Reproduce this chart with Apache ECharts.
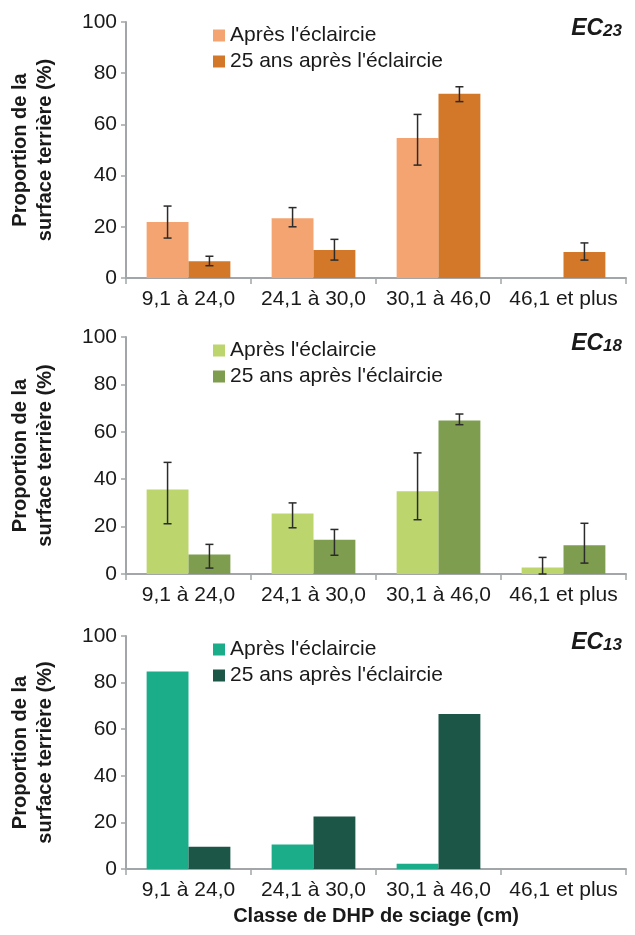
<!DOCTYPE html>
<html>
<head>
<meta charset="utf-8">
<script src="https://cdn.jsdelivr.net/npm/echarts@6/dist/echarts.min.js"></script>
<style>
  html, body { margin: 0; padding: 0; background: #fff; }
  #chart { width: 635px; height: 935px; }
</style>
</head>
<body>
<div id="chart"></div>
<script>
// ---------- DATA ----------
const categories = ['9,1 à 24,0', '24,1 à 30,0', '30,1 à 46,0', '46,1 et plus'];
const yTicks = [0, 20, 40, 60, 80, 100];
const legendAfter = "Après l'éclaircie";
const legendLater = "25 ans après l'éclaircie";
const panelNames = ['EC23', 'EC18', 'EC13'];

// EC23
const ec23After = [21.9, 23.3, 54.7, 0];
const ec23Later = [6.5, 10.9, 72.0, 10.2];
const ec23AfterErr = [[15.6, 28.1], [20.0, 27.5], [44.1, 63.9], null];
const ec23LaterErr = [[4.8, 8.5], [7.0, 15.1], [68.9, 74.7], [7.0, 13.7]];

// EC18
const ec18After = [35.7, 25.5, 34.9, 2.7];
const ec18Later = [8.2, 14.5, 64.8, 12.1];
const ec18AfterErr = [[21.2, 47.1], [19.5, 30.0], [22.9, 51.1], [0, 7.0]];
const ec18LaterErr = [[2.5, 12.5], [7.9, 18.8], [63.0, 67.5], [4.6, 21.4]];

// EC13
const ec13After = [84.8, 10.5, 2.3, 0];
const ec13Later = [9.6, 22.5, 66.5, 0];

// ---------- STYLE ----------
const panels = [
  { key: 'EC23', num: '23', after: ec23After, later: ec23Later, afterErr: ec23AfterErr, laterErr: ec23LaterErr,
    cA: '#F4A470', cB: '#D27828', top: 22, height: 256 },
  { key: 'EC18', num: '18', after: ec18After, later: ec18Later, afterErr: ec18AfterErr, laterErr: ec18LaterErr,
    cA: '#BDD56D', cB: '#7F9D4E', top: 337, height: 237 },
  { key: 'EC13', num: '13', after: ec13After, later: ec13Later, afterErr: null, laterErr: null,
    cA: '#1BAD8A', cB: '#1B5646', top: 636, height: 233 }
];

const FONT = '"Liberation Sans", Arial, sans-serif';
const TXT = '#1a1a1a';
const AXIS = '#a3a6a8';
const BAR_FRAC = 0.67; // fraction of category occupied by the two bars

const grids = [], xAxes = [], yAxes = [], series = [], legends = [], titles = [];

function errRender(side) {
  return function (params, api) {
    const x = api.value(0);
    const lo = api.coord([x, api.value(1)]);
    const hi = api.coord([x, api.value(2)]);
    const band = api.size([1, 0])[0];
    const off = side * band * BAR_FRAC / 4;
    const cx = lo[0] + off;
    const cap = 4;
    const st = { stroke: '#2b2b2b', lineWidth: 1.5 };
    return {
      type: 'group',
      children: [
        { type: 'line', shape: { x1: cx, y1: lo[1], x2: cx, y2: hi[1] }, style: st },
        { type: 'line', shape: { x1: cx - cap, y1: lo[1], x2: cx + cap, y2: lo[1] }, style: st },
        { type: 'line', shape: { x1: cx - cap, y1: hi[1], x2: cx + cap, y2: hi[1] }, style: st }
      ]
    };
  };
}

panels.forEach((p, i) => {
  grids.push({ left: 126, right: 9, top: p.top, height: p.height });
  xAxes.push({
    type: 'category', gridIndex: i, data: categories,
    axisLine: { lineStyle: { color: AXIS, width: 2 } },
    axisTick: { show: true, length: 6, interval: 0, lineStyle: { color: AXIS, width: 1.5 } },
    axisLabel: { color: TXT, fontSize: 21, fontFamily: FONT, margin: 11, interval: 0 },
    name: i === 2 ? 'Classe de DHP de sciage (cm)' : '',
    nameLocation: 'middle', nameGap: 37,
    nameTextStyle: { color: TXT, fontSize: 20, fontWeight: 'bold', fontFamily: FONT }
  });
  yAxes.push({
    type: 'value', gridIndex: i, min: 0, max: 100, interval: 20,
    splitLine: { show: false },
    axisLine: { show: true, lineStyle: { color: AXIS, width: 2 } },
    axisTick: { show: true, length: 5, lineStyle: { color: AXIS, width: 1.5 } },
    axisLabel: { color: TXT, fontSize: 21, fontFamily: FONT, margin: 9 },
    name: 'Proportion de la\nsurface terrière (%)',
    nameLocation: 'middle', nameGap: 68, nameRotate: 90,
    nameTextStyle: { color: TXT, fontSize: 20, fontWeight: 'bold', fontFamily: FONT, lineHeight: 25 }
  });
  const nA = p.key + '_a', nB = p.key + '_b';
  series.push({
    name: nA, type: 'bar', xAxisIndex: i, yAxisIndex: i, data: p.after,
    barGap: '0%', barCategoryGap: '33%',
    itemStyle: { color: p.cA }
  });
  series.push({
    name: nB, type: 'bar', xAxisIndex: i, yAxisIndex: i, data: p.later,
    barGap: '0%', barCategoryGap: '33%',
    itemStyle: { color: p.cB }
  });
  [[p.afterErr, -1], [p.laterErr, 1]].forEach(([errs, side]) => {
    if (!errs) return;
    const d = [];
    errs.forEach((e, k) => { if (e) d.push([k, e[0], e[1]]); });
    series.push({
      type: 'custom', xAxisIndex: i, yAxisIndex: i, z: 5, silent: true,
      renderItem: errRender(side), encode: { x: 0, y: [1, 2] }, data: d
    });
  });
  legends.push({
    data: [nA, nB], orient: 'vertical', left: 213, top: p.top + 3, padding: 0,
    itemWidth: 12, itemHeight: 12, itemGap: 5, icon: 'rect',
    selectedMode: false,
    formatter: (n) => n.endsWith('_a') ? legendAfter : legendLater,
    textStyle: { color: TXT, fontSize: 21, fontFamily: FONT, lineHeight: 21, padding: [0, 0, 0, 0] }
  });
  titles.push({
    text: '{a|EC}{b|' + p.num + '}', right: 8, top: p.top - 10,
    textStyle: {
      rich: {
        a: { fontSize: 23, fontWeight: 'bold', fontStyle: 'italic', color: TXT, fontFamily: FONT },
        b: { fontSize: 17, fontWeight: 'bold', fontStyle: 'italic', color: TXT, fontFamily: FONT, padding: [5, 0, 0, 0] }
      }
    }
  });
});

const chart = echarts.init(document.getElementById('chart'), null, { renderer: 'canvas' });
chart.setOption({
  animation: false,
  backgroundColor: '#ffffff',
  title: titles,
  legend: legends,
  grid: grids,
  xAxis: xAxes,
  yAxis: yAxes,
  series: series
});
</script>
</body>
</html>
